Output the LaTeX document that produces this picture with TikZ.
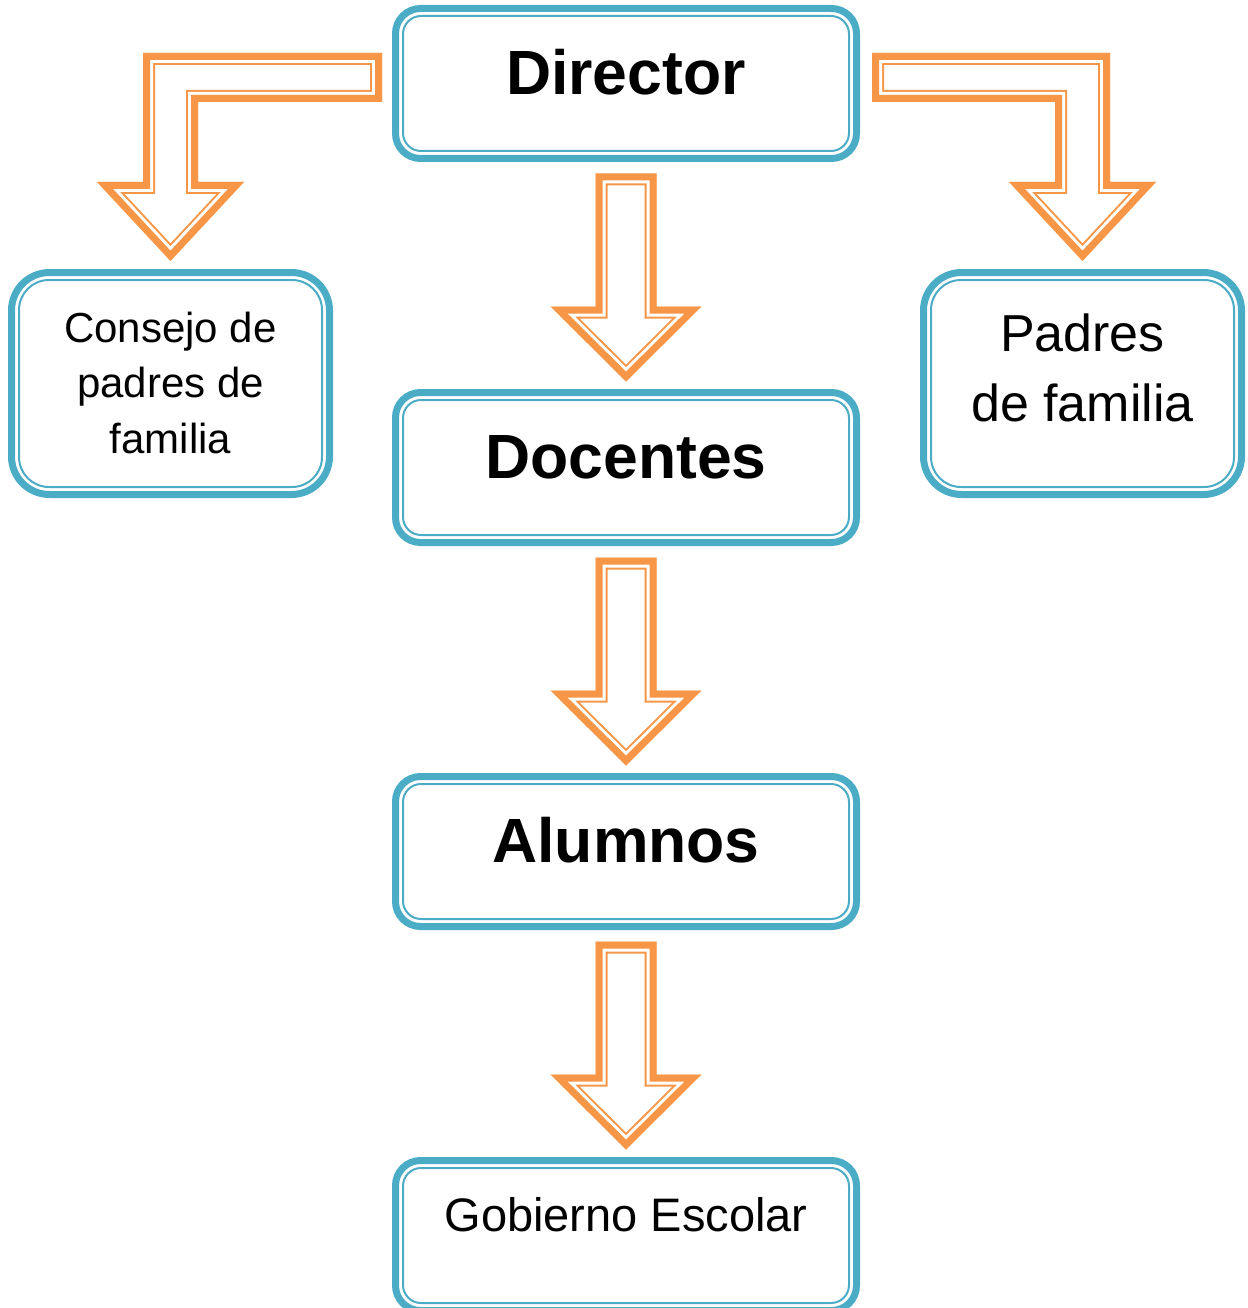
\documentclass[tikz,border=0pt]{standalone}
\usepackage{fontspec}
\setmainfont{Liberation Sans}
\usetikzlibrary{calc}
\definecolor{azul}{HTML}{4BACC6}
\definecolor{naranja}{HTML}{F79646}
\tikzset{
caja/.style={draw=azul, line width=7pt, fill=white, rounded corners=25pt, inner sep=0pt, outer sep=0pt, align=center}, % recuadro azul grueso
central/.style={caja, minimum width=461pt, minimum height=150pt, font=\fontsize{62.5}{75}\selectfont\bfseries, text height=86pt, text depth=64pt},
lateral/.style={caja, rounded corners=38pt, minimum width=318pt, minimum height=222pt},
fina/.style={draw=azul, line width=2pt}, % linea interior
}
% flecha de bloque: borde grueso, hueco blanco y linea fina
\newcommand{\flecha}[1]{%
  \begin{scope}
    \clip #1;
    \draw[naranja, line width=24pt] #1;
    \draw[white, line width=20pt] #1;
    \draw[naranja, line width=14pt] #1;
  \end{scope}}
\newcommand{\flechabaja}[2]{%
  \flecha{let \p1=($(#1.south)+(0,15)$), \p2=($(#2.north)+(0,-11)$) in
    (\x1-30.5pt,\y1) -- (\x1-30.5pt,\y2+75pt) -- (\x1-75.5pt,\y2+75pt) -- (\x2,\y2)
    -- (\x1+75.5pt,\y2+75pt) -- (\x1+30.5pt,\y2+75pt) -- (\x1+30.5pt,\y1) -- cycle}}

\begin{document}
\begin{tikzpicture}[x=1pt, y=-1pt]
    \useasboundingbox (0,0) rectangle (1247,1308);

    \node[central] (dir) at (626,83.5) {Director};
    \node[central] (doc) at (626,467.5) {Docentes};
    \node[central] (alu) at (626,851.5) {Alumnos};
    \node[central, font=\fontsize{47}{56}\selectfont, text height=70.5pt, text depth=79.5pt] (gob) at (626,1235.5) {Gobierno Escolar};
    \node[lateral, font=\fontsize{42}{55.5}\selectfont, text height=180.5pt, text depth=41.5pt] (cons) at (170.5,383.5) {Consejo de\\padres de\\familia};
    \node[lateral, font=\fontsize{52}{70}\selectfont, text height=148.5pt, text depth=73.5pt] (pad) at (1082.5,383.5) {Padres\\de familia};

    % lineas finas interiores
    \foreach \b in {dir, doc, alu, gob}
        \draw[fina, rounded corners=18pt] ($(\b.north west)+(7.5,7.5)$) rectangle ($(\b.south east)+(-7.5,-7.5)$);
    \foreach \b in {cons, pad}
        \draw[fina, rounded corners=30pt] ($(\b.north west)+(7.5,7.5)$) rectangle ($(\b.south east)+(-7.5,-7.5)$);

    \flechabaja{dir}{doc}
    \flechabaja{doc}{alu}
    \flechabaja{alu}{gob}

    \flecha{let \p1=($(dir.west)+(-13.5,-6)$), \p2=($(cons.north)+(0,-11.5)$) in
        (\x1,\y1+24.5pt) -- (\x2-27.5pt,\y1+24.5pt) -- (\x2-27.5pt,\y2+79pt) -- (\x2-73.5pt,\y2+79pt) -- (\x2,\y2)
        -- (\x2+73.5pt,\y2+79pt) -- (\x2+27.5pt,\y2+79pt) -- (\x2+27.5pt,\y1-24.5pt) -- (\x1,\y1-24.5pt) -- cycle}
    \flecha{let \p1=($(dir.east)+(15.5,-6)$), \p2=($(pad.north)+(0,-11.5)$) in
        (\x1,\y1+24.5pt) -- (\x2+27.5pt,\y1+24.5pt) -- (\x2+27.5pt,\y2+79pt) -- (\x2+73.5pt,\y2+79pt) -- (\x2,\y2)
        -- (\x2-73.5pt,\y2+79pt) -- (\x2-27.5pt,\y2+79pt) -- (\x2-27.5pt,\y1-24.5pt) -- (\x1,\y1-24.5pt) -- cycle}
\end{tikzpicture}
\end{document}
